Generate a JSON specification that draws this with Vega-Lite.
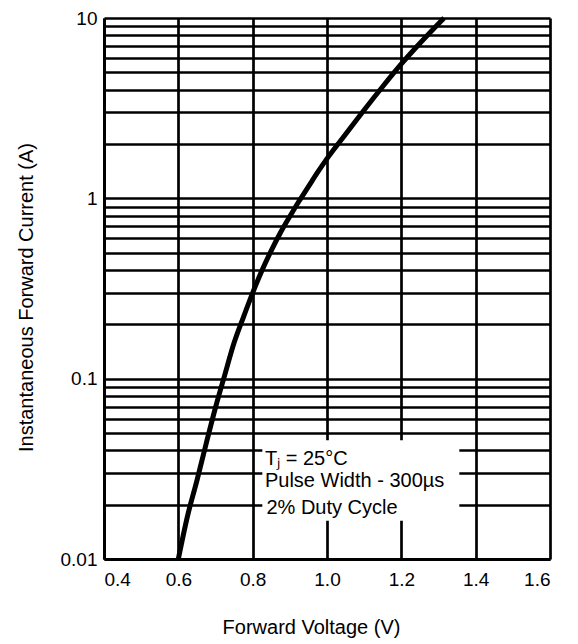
{
  "$schema": "https://vega.github.io/schema/vega-lite/v6.json",
  "width": 446,
  "height": 541,
  "autosize": "none",
  "padding": {"left": 104, "top": 18, "right": 28, "bottom": 85},
  "background": "white",
  "config": {
    "view": {"stroke": null},
    "font": "Liberation Sans",
    "axis": {
      "domainColor": "black",
      "domainWidth": 3,
      "gridColor": "black",
      "gridWidth": 2.7,
      "gridOpacity": 1,
      "ticks": false,
      "labelFont": "Liberation Sans",
      "labelFontSize": 19,
      "labelColor": "black",
      "titleFont": "Liberation Sans",
      "titleFontSize": 20,
      "titleFontWeight": "normal",
      "titleColor": "black"
    }
  },
  "datasets": {
    "curve": [
      {"V": 0.600, "I": 0.0100},
      {"V": 0.625, "I": 0.0174},
      {"V": 0.650, "I": 0.0272},
      {"V": 0.675, "I": 0.0437},
      {"V": 0.700, "I": 0.0692},
      {"V": 0.725, "I": 0.105},
      {"V": 0.750, "I": 0.158},
      {"V": 0.775, "I": 0.219},
      {"V": 0.800, "I": 0.299},
      {"V": 0.825, "I": 0.398},
      {"V": 0.850, "I": 0.513},
      {"V": 0.875, "I": 0.646},
      {"V": 0.900, "I": 0.794},
      {"V": 0.925, "I": 0.966},
      {"V": 0.950, "I": 1.161},
      {"V": 0.975, "I": 1.396},
      {"V": 1.000, "I": 1.660},
      {"V": 1.050, "I": 2.265},
      {"V": 1.100, "I": 3.09},
      {"V": 1.150, "I": 4.17},
      {"V": 1.200, "I": 5.56},
      {"V": 1.250, "I": 7.24},
      {"V": 1.315, "I": 10.0}
    ],
    "box": [{"x1": 0.826, "x2": 1.356, "y1": 0.0163, "y2": 0.0455}],
    "notes": [
      {"V": 0.833, "I": 0.0360, "text": "Tⱼ = 25°C"},
      {"V": 0.833, "I": 0.0270, "text": "Pulse Width - 300µs"},
      {"V": 0.837, "I": 0.0193, "text": "2% Duty Cycle"}
    ]
  },
  "layer": [
    {
      "data": {"name": "box"},
      "mark": {"type": "rect", "fill": "white", "stroke": null},
      "encoding": {
        "x": {"field": "x1", "type": "quantitative", "scale": {"domain": [0.4, 1.6], "nice": false},
          "axis": {"values": [0.4, 0.6, 0.8, 1.0, 1.2, 1.4, 1.6], "format": ".1f", "title": "Forward Voltage (V)", "labelPadding": 11, "titlePadding": 28, "titleX": 207, "grid": true}},
        "x2": {"field": "x2"},
        "y": {"field": "y1", "type": "quantitative",
          "scale": {"type": "log", "domain": [0.01, 10], "nice": false},
          "axis": {
            "values": [0.01, 0.02, 0.03, 0.04, 0.05, 0.06, 0.07, 0.08, 0.09, 0.1, 0.2, 0.3, 0.4, 0.5, 0.6, 0.7, 0.8, 0.9, 1, 2, 3, 4, 5, 6, 7, 8, 9, 10],
            "labelExpr": "datum.value == 0.01 ? '0.01' : datum.value == 0.1 ? '0.1' : datum.value == 1 ? '1' : datum.value == 10 ? '10' : ''",
            "title": "Instantaneous Forward Current (A)",
            "labelPadding": 7,
            "titlePadding": 24,
            "titleY": 279,
            "grid": true
          }},
        "y2": {"field": "y2"}
      }
    },
    {
      "data": {"name": "curve"},
      "mark": {"type": "line", "color": "black", "strokeWidth": 5, "interpolate": "monotone"},
      "encoding": {
        "x": {"field": "V", "type": "quantitative"},
        "y": {"field": "I", "type": "quantitative"}
      }
    },
    {
      "data": {"name": "notes"},
      "mark": {"type": "text", "align": "left", "baseline": "middle", "font": "Liberation Sans", "fontSize": 20, "color": "black"},
      "encoding": {
        "x": {"field": "V", "type": "quantitative"},
        "y": {"field": "I", "type": "quantitative"},
        "text": {"field": "text"}
      }
    }
  ]
}
